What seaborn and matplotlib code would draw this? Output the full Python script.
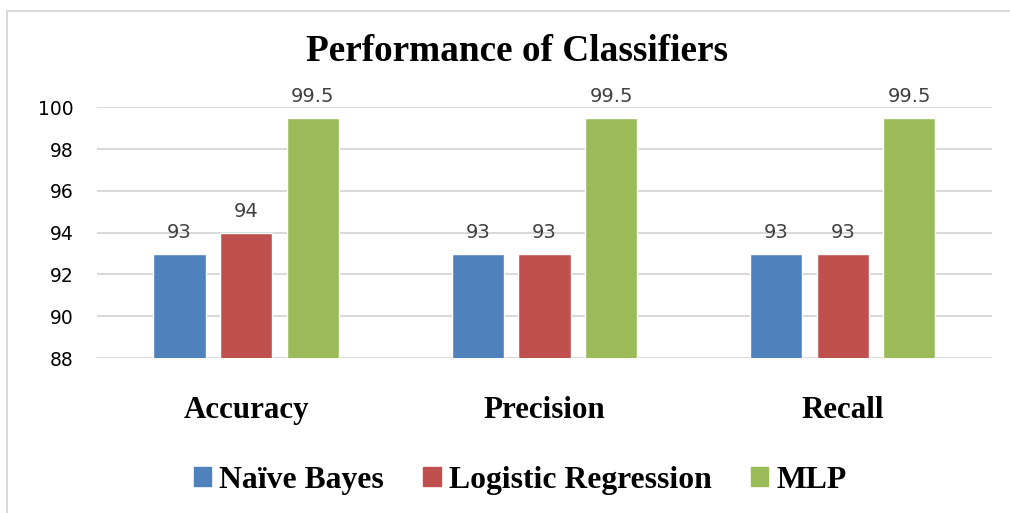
import matplotlib
matplotlib.use('Agg')
import matplotlib.pyplot as plt
import matplotlib.patches as patches
import pandas as pd
import seaborn as sns

# Data
metrics = ['Accuracy', 'Precision', 'Recall']
classifiers = ['Naïve Bayes', 'Logistic Regression', 'MLP']
naive_bayes = [93, 93, 93]
logistic_regression = [94, 93, 93]
mlp = [99.5, 99.5, 99.5]
y_ticks = [88, 90, 92, 94, 96, 98, 100]

palette = ['#4F81BD', '#C0504D', '#9BBB59']

# Long-form table for seaborn
rows = []
for name, vals in zip(classifiers, [naive_bayes, logistic_regression, mlp]):
    for m, v in zip(metrics, vals):
        rows.append({'Metric': m, 'Classifier': name, 'Score': v})
df = pd.DataFrame(rows)

sns.set_style('white')
plt.rcParams['font.family'] = ['DejaVu Sans']

fig = plt.figure(figsize=(10.10, 5.13), dpi=100)
ax = fig.add_axes([0.096, 0.302, 0.886, 0.489])

sns.barplot(data=df, x='Metric', y='Score', hue='Classifier', order=metrics,
            hue_order=classifiers, palette=palette, width=0.67, gap=0.215,
            saturation=1, ax=ax, legend=False)

# Value labels above bars
for cont in ax.containers:
    ax.bar_label(cont, fmt='%g', padding=8.5, fontsize=14, color='#404040')

ax.set_ylim(88, 100)
ax.set_xlim(-0.5, 2.5)
ax.set_yticks(y_ticks)
ax.yaxis.grid(True, color='#D9D9D9', linewidth=1.5)
ax.set_axisbelow(True)
for s in ax.spines.values():
    s.set_visible(False)
ax.tick_params(axis='both', length=0)
ax.tick_params(axis='y', labelsize=13.5, labelcolor='black', pad=17)
ax.set_xlabel('')
ax.set_ylabel('')
ax.set_xticks(range(len(metrics)))
ax.set_xticklabels(metrics, fontfamily='Liberation Serif', fontweight='bold',
                   fontsize=22.3, color='black')
ax.tick_params(axis='x', pad=27)

fig.text(0.512, 0.9, 'Performance of Classifiers', ha='center', va='center',
         fontfamily='Liberation Serif', fontweight='bold', fontsize=26.8,
         color='black')

# Legend
handles = [patches.Patch(color=c, label=l) for c, l in zip(palette, classifiers)]
fig.legend(handles=handles, loc='center', bbox_to_anchor=(0.515, 0.064), ncol=3,
           frameon=False, handlelength=0.55, handleheight=0.55, handletextpad=0.25,
           columnspacing=1.25, labelcolor='black',
           prop={'family': 'Liberation Serif', 'weight': 'bold', 'size': 22.8})

# Outer chart border
border = patches.Rectangle((7 / 1010, -0.05), 1.05, 1 - 11 / 513 + 0.05,
                           transform=fig.transFigure, fill=False,
                           edgecolor='#D9D9D9', linewidth=1.5)
fig.patches.append(border)

fig.savefig('out.png', dpi=100)
